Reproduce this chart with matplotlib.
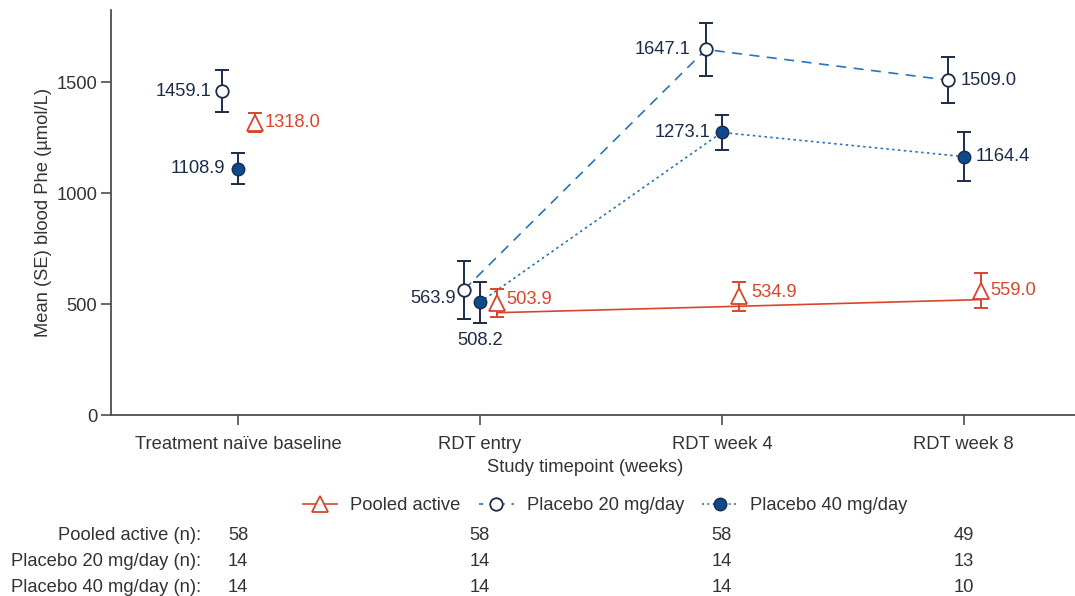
import numpy as np
import matplotlib
matplotlib.use('Agg')
import matplotlib.pyplot as plt
from matplotlib.lines import Line2D

plt.rcParams['font.family'] = ['Liberation Sans', 'DejaVu Sans']
FS = 13.2

timepoints = ['Treatment naïve baseline', 'RDT entry', 'RDT week 4', 'RDT week 8']

pooled_mean = [1318.0, 503.9, 534.9, 559.0]
pooled_se = [45, 63, 66, 79]
pooled_trend = [461, 490, 520]  # straight line drawn from RDT entry to week 8

p20_mean = [1459.1, 563.9, 1647.1, 1509.0]
p20_se = [95, 131, 120, 102]

p40_mean = [1108.9, 508.2, 1273.1, 1164.4]
p40_se = [70, 93, 81, 111]

n_rows = ['Pooled active (n):', 'Placebo 20 mg/day (n):', 'Placebo 40 mg/day (n):']
n_pooled = [58, 58, 58, 49]
n_p20 = [14, 14, 14, 13]
n_p40 = [14, 14, 14, 10]

NAVY = '#1c2b4b'
BLUE_FILL = '#0b4a8b'
BLUE_LINE = '#2a73b8'
RED = '#d9452b'
GREY = '#333333'

fig = plt.figure(figsize=(10.75, 5.96), dpi=100)
ax = fig.add_axes([111 / 1075, 1 - 415 / 596, 1 - 111 / 1075, (415 - 10) / 596])

x = np.arange(len(timepoints))
x_pool = x + 0.07
x_20 = x - 0.066
x_40 = x + 0.0

# connecting lines (from RDT entry onwards)
ax.plot(x_pool[1:], pooled_trend, color=RED, lw=1.2, zorder=1)
ax.plot(x_20[1:], p20_mean[1:], color=BLUE_LINE, lw=1.2, ls=(0, (6, 4.5)), zorder=1)
ax.plot(x_40[1:], p40_mean[1:], color=BLUE_LINE, lw=1.2, ls=(0, (1.5, 2)), zorder=1)

# error bars
for xs, ys, se, col in [(x_pool, pooled_mean, pooled_se, RED),
                        (x_20, p20_mean, p20_se, NAVY),
                        (x_40, p40_mean, p40_se, NAVY)]:
    ax.errorbar(xs, ys, yerr=se, fmt='none', ecolor=col, elinewidth=1.4,
                capsize=4.8, capthick=1.4, zorder=2)

# markers
ax.plot(x_pool, pooled_mean, ls='none', marker='^', ms=11, mfc='white', mec=RED, mew=1.3, zorder=3)
ax.plot(x_20, p20_mean, ls='none', marker='o', ms=9, mfc='white', mec=NAVY, mew=1.3, zorder=3)
ax.plot(x_40, p40_mean, ls='none', marker='o', ms=9, mfc=BLUE_FILL, mec=NAVY, mew=1.0, zorder=3)

# value labels (offsets in pixels)
p20_offsets = [(-11, 0, 'right'), (-8, -9, 'right'), (-15, 0, 'right'), (13, 0, 'left')]
p40_offsets = [(-13, 0, 'right'), (0, -38, 'center'), (-11, 0, 'right'), (12, 0, 'left')]
pool_offsets = [(10, 0, 'left'), (9, 4, 'left'), (13, 4, 'left'), (10, 0, 'left')]

for xs, ys, offs, col in [(x_20, p20_mean, p20_offsets, NAVY),
                          (x_40, p40_mean, p40_offsets, NAVY),
                          (x_pool, pooled_mean, pool_offsets, RED)]:
    for xi, yi, (dx, dy, ha) in zip(xs, ys, offs):
        ax.annotate(f'{yi:.1f}', (xi, yi), xytext=(dx, dy), textcoords='offset pixels',
                    ha=ha, va='center', fontsize=FS, color=col, zorder=4)

ax.set_xlim(-0.525, 3.46)
ax.set_ylim(0, 1825)
ax.set_xticks(x)
ax.set_xticklabels(timepoints, fontsize=FS, color=GREY)
ax.set_yticks([0, 500, 1000, 1500])
ax.tick_params(axis='y', labelsize=FS, labelcolor=GREY, length=7, width=1.2, color='#4d4d4d', pad=3)
ax.tick_params(axis='x', length=7, width=1.2, color='#4d4d4d', pad=8)
ax.set_ylabel('Mean (SE) blood Phe (µmol/L)', fontsize=FS, color=GREY, labelpad=3)
for s in ['top', 'right']:
    ax.spines[s].set_visible(False)
for s in ['left', 'bottom']:
    ax.spines[s].set_color('#4d4d4d')
    ax.spines[s].set_linewidth(1.3)

fig.text(585 / 1075, 1 - 468 / 596, 'Study timepoint (weeks)', ha='center', va='center',
         fontsize=FS, color=GREY)

handles = [
    Line2D([], [], color=RED, lw=1.2, marker='^', ms=11, mfc='white', mec=RED, mew=1.3),
    Line2D([], [], color=BLUE_LINE, lw=1.2, ls=(0, (2.5, 4)), marker='o', ms=9, mfc='white',
           mec=NAVY, mew=1.3),
    Line2D([], [], color=BLUE_LINE, lw=1.2, ls=(0, (1.2, 2)), marker='o', ms=9, mfc=BLUE_FILL,
           mec=NAVY, mew=1.0),
]
fig.legend(handles, ['Pooled active', 'Placebo 20 mg/day', 'Placebo 40 mg/day'],
           loc='center', bbox_to_anchor=(605 / 1075, 1 - 506 / 596), ncol=3, frameon=False,
           fontsize=FS, handlelength=1.9, handletextpad=0.7, columnspacing=1.0,
           labelcolor=GREY)

# numbers-at-risk table
row_y = [535, 561, 587]
for label, counts, yp in zip(n_rows, [n_pooled, n_p20, n_p40], row_y):
    fig.text(201 / 1075, 1 - yp / 596, label, ha='right', va='center', fontsize=FS, color=GREY)
    for xi, c in zip(x, counts):
        xd = ax.transData.transform((xi, 0))[0] / fig.bbox.width
        fig.text(xd, 1 - yp / 596, str(c), ha='center', va='center', fontsize=FS, color=GREY)

fig.savefig('out.png', dpi=100)
